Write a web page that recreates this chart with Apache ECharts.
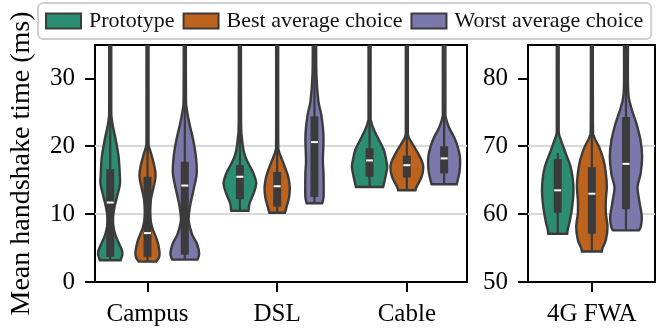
<!DOCTYPE html>
<html>
<head>
<meta charset="utf-8">
<script src="https://cdn.jsdelivr.net/npm/echarts@6/dist/echarts.min.js"></script>
<style>
html,body{margin:0;padding:0;background:#fff;}
#chart{width:662px;height:330px;}
</style>
</head>
<body>
<div id="chart"></div>
<script>
// ---------- data ----------
const categoriesLeft = ['Campus', 'DSL', 'Cable'];
const categoriesRight = ['4G FWA'];
const hues = ['Prototype', 'Best average choice', 'Worst average choice'];
const hueColors = ['#2B8E70', '#BE631D', '#7C78AB'];
const yTicksLeft = [0, 10, 20, 30];
const yTicksRight = [50, 60, 70, 80];

// violin outlines: [value (ms), half width (category units)]
const campusPrototype = [[3.2,0.080],[4.0,0.093],[4.7,0.090],[5.7,0.067],[7.1,0.037],[9.1,0.019],[11.1,0.034],[13.0,0.058],[14.5,0.075],[16.0,0.073],[18.4,0.065],[20.9,0.043],[22.8,0.022],[24.3,0.010],[26,0.008],[36,0.008]];
const campusBest = [[3.0,0.067],[3.7,0.090],[4.7,0.091],[6.2,0.073],[8.1,0.035],[10.1,0.017],[12.0,0.025],[14.0,0.047],[15.5,0.062],[16.9,0.055],[18.9,0.028],[19.9,0.012],[21,0.008],[36,0.008]];
const campusWorst = [[3.3,0.097],[4.2,0.111],[5.7,0.092],[7.1,0.055],[9.1,0.030],[11.1,0.040],[13.5,0.067],[16.0,0.092],[18.4,0.086],[20.9,0.065],[23.3,0.036],[25.5,0.015],[27.2,0.009],[36,0.008]];
const dslPrototype = [[10.5,0.067],[11.6,0.075],[13.0,0.105],[14.5,0.126],[16.0,0.105],[17.4,0.067],[18.9,0.034],[21.3,0.015],[23.8,0.009],[36,0.008]];
const dslBest = [[10.2,0.060],[11.1,0.073],[12.5,0.092],[14.0,0.097],[15.5,0.085],[16.9,0.060],[18.4,0.030],[19.4,0.012],[21,0.008],[36,0.008]];
const dslWorst = [[11.6,0.060],[12.5,0.070],[14.0,0.071],[16.0,0.070],[17.9,0.065],[20.9,0.070],[22.8,0.065],[24.8,0.051],[26.7,0.030],[30.6,0.015],[36,0.013]];
const cablePrototype = [[14.0,0.105],[15.5,0.123],[16.9,0.136],[17.9,0.129],[19.4,0.111],[20.9,0.073],[22.3,0.036],[23.8,0.010],[25,0.008],[36,0.008]];
const cableBest = [[13.5,0.067],[14.0,0.075],[15.5,0.114],[16.9,0.127],[17.9,0.114],[19.4,0.073],[20.9,0.026],[21.6,0.010],[23,0.008],[36,0.008]];
const cableWorst = [[14.4,0.097],[15.0,0.105],[16.4,0.120],[18.4,0.122],[19.9,0.105],[21.3,0.077],[22.8,0.037],[24.3,0.012],[26,0.010],[36,0.010]];
const fwaPrototype = [[57.1,0.080],[57.7,0.084],[59.1,0.103],[61.1,0.122],[63.1,0.132],[65.0,0.128],[67.0,0.108],[69.0,0.066],[70.9,0.027],[71.9,0.010],[74,0.008],[86,0.008]];
const fwaBest = [[54.5,0.084],[55.0,0.090],[56.2,0.118],[58.1,0.132],[60.1,0.118],[62.1,0.118],[64.0,0.126],[66.0,0.118],[68.0,0.098],[69.9,0.061],[71.4,0.019],[73.4,0.009],[86,0.008]];
const fwaWorst = [[57.6,0.109],[58.1,0.124],[59.6,0.133],[62.1,0.111],[64.0,0.097],[66.0,0.124],[68.5,0.136],[70.9,0.122],[73.4,0.087],[75.8,0.042],[78.3,0.018],[86,0.017]];

// inner boxes: [whisker low, q1, median, q3, whisker high]
const campusBoxes = [[3.3,3.7,11.7,16.6,36],[3.0,3.7,7.2,15.5,33],[3.4,4.0,14.2,17.7,36]];
const dslBoxes = [[10.5,12.2,15.5,17.2,24.7],[10.2,11.1,14.1,16.2,23.9],[11.6,12.5,20.6,24.4,36]];
const cableBoxes = [[14.0,15.5,17.9,19.7,26],[13.5,15.4,17.2,18.6,23.4],[14.4,16.0,18.2,20.0,26]];
const fwaBoxes = [[57.1,60.2,63.5,68.1,69.0],[54.5,57.1,63.0,66.9,74],[57.6,60.7,67.4,74.3,86]];

// ---------- build ----------
const profilesLeft = [[campusPrototype, campusBest, campusWorst],[dslPrototype, dslBest, dslWorst],[cablePrototype, cableBest, cableWorst]];
const boxesLeft = [campusBoxes, dslBoxes, cableBoxes];
const profilesRight = [[fwaPrototype, fwaBest, fwaWorst]];
const boxesRight = [fwaBoxes];

const DODGE = [-0.2875, 0, 0.2875];
const LINE = '#3b3b3b';
const FONT = 'Liberation Serif';

// smooth (Catmull-Rom) path through screen points, as SVG path commands
function smoothSegs(pts) {
  let d = '';
  for (let i = 0; i < pts.length - 1; i++) {
    const p0 = pts[Math.max(i - 1, 0)], p1 = pts[i], p2 = pts[i + 1], p3 = pts[Math.min(i + 2, pts.length - 1)];
    const c1 = [p1[0] + (p2[0] - p0[0]) / 6, p1[1] + (p2[1] - p0[1]) / 6];
    const c2 = [p2[0] - (p3[0] - p1[0]) / 6, p2[1] - (p3[1] - p1[1]) / 6];
    d += ' C' + c1[0].toFixed(2) + ',' + c1[1].toFixed(2) + ' ' + c2[0].toFixed(2) + ',' + c2[1].toFixed(2) + ' ' + p2[0].toFixed(2) + ',' + p2[1].toFixed(2);
  }
  return d;
}

function makeRender(profiles, boxes, h) {
  return function (params, api) {
    const gi = api.value(0);
    const xc = gi + DODGE[h];
    const prof = profiles[gi][h];
    const rightSide = prof.map(p => api.coord([xc + p[1], p[0]]));
    const leftSide = prof.slice().reverse().map(p => api.coord([xc - p[1], p[0]]));
    const pathData = 'M' + rightSide[0][0].toFixed(2) + ',' + rightSide[0][1].toFixed(2) + smoothSegs(rightSide)
      + ' L' + leftSide[0][0].toFixed(2) + ',' + leftSide[0][1].toFixed(2) + smoothSegs(leftSide) + ' Z';
    const b = boxes[gi][h];
    const pLo = api.coord([xc, b[0]]);
    const pQ1 = api.coord([xc, b[1]]);
    const pMed = api.coord([xc, b[2]]);
    const pQ3 = api.coord([xc, b[3]]);
    const pHi = api.coord([xc, b[4]]);
    return {
      type: 'group',
      children: [
        { type: 'path', shape: { pathData: pathData },
          style: { fill: hueColors[h], stroke: LINE, lineWidth: 2.4, lineJoin: 'miter' } },
        { type: 'line', shape: { x1: pLo[0], y1: pLo[1], x2: pHi[0], y2: pHi[1] },
          style: { stroke: LINE, lineWidth: 2.2 } },
        { type: 'rect', shape: { x: pQ3[0] - 4, y: pQ3[1], width: 8, height: pQ1[1] - pQ3[1] },
          style: { fill: LINE } },
        { type: 'line', shape: { x1: pMed[0] - 3.5, y1: pMed[1], x2: pMed[0] + 3.5, y2: pMed[1] },
          style: { stroke: '#ffffff', lineWidth: 2 } }
      ]
    };
  };
}

const series = [];
[[profilesLeft, boxesLeft, categoriesLeft, 0], [profilesRight, boxesRight, categoriesRight, 1]].forEach(([profiles, boxes, cats, p]) => {
  hues.forEach((name, h) => {
    series.push({
      type: 'custom',
      name: name,
      xAxisIndex: p,
      yAxisIndex: p,
      clip: true,
      itemStyle: { color: hueColors[h], borderColor: LINE, borderWidth: 2 },
      renderItem: makeRender(profiles, boxes, h),
      data: cats.map((c, gi) => [gi, boxes[gi][h][2]]),
      silent: true,
      animation: false
    });
  });
});

const tickStyle = { show: true, inside: false, length: 10, lineStyle: { color: '#000', width: 2 } };
const labelStyle = { color: '#000', fontFamily: FONT, fontSize: 25 };

const option = {
  animation: false,
  legend: {
    data: hues,
    left: 38, top: 3,
    padding: [7, 8, 7, 7],
    itemGap: 8,
    itemWidth: 35, itemHeight: 15,
    icon: 'rect',
    itemStyle: { borderColor: LINE, borderWidth: 2 },
    backgroundColor: 'rgba(255,255,255,0.8)',
    borderColor: '#cfcfcf', borderWidth: 2, borderRadius: 5,
    textStyle: { color: '#111', fontFamily: FONT, fontSize: 22, padding: [0, 0, 0, 3] },
    selectedMode: false
  },
  grid: [
    { left: 83, top: 45, width: 384, height: 237, show: true, borderColor: '#000', borderWidth: 2, backgroundColor: 'transparent' },
    { left: 528, top: 45, width: 127, height: 237, show: true, borderColor: '#000', borderWidth: 2, backgroundColor: 'transparent' }
  ],
  xAxis: [
    { type: 'value', gridIndex: 0, min: -0.405, max: 2.464, position: 'bottom',
      axisLine: { show: false, onZero: false }, splitLine: { show: false },
      axisTick: Object.assign({ customValues: categoriesLeft.map((c, i) => i) }, tickStyle),
      axisLabel: Object.assign({ customValues: categoriesLeft.map((c, i) => i), margin: 20,
        formatter: v => categoriesLeft[Math.round(v)] }, labelStyle) },
    { type: 'value', gridIndex: 1, min: -0.538, max: 0.532, position: 'bottom',
      axisLine: { show: false, onZero: false }, splitLine: { show: false },
      axisTick: Object.assign({ customValues: [0] }, tickStyle),
      axisLabel: Object.assign({ customValues: [0], margin: 20,
        formatter: v => categoriesRight[Math.round(v)] }, labelStyle) }
  ],
  yAxis: [
    { type: 'value', gridIndex: 0, min: 0, max: 34.9, interval: 10, position: 'left',
      name: 'Mean handshake time (ms)', nameLocation: 'middle', nameGap: 59,
      nameTextStyle: { color: '#000', fontFamily: FONT, fontSize: 28 },
      axisLine: { show: false, onZero: false },
      axisTick: Object.assign({ customValues: yTicksLeft }, tickStyle),
      axisLabel: Object.assign({ customValues: yTicksLeft, margin: 20 }, labelStyle),
      splitLine: { show: true, showMinLine: false, showMaxLine: false, lineStyle: { color: '#d9d9d9', width: 2 } } },
    { type: 'value', gridIndex: 1, min: 50, max: 84.9, interval: 10, position: 'left',
      axisLine: { show: false, onZero: false },
      axisTick: Object.assign({ customValues: yTicksRight }, tickStyle),
      axisLabel: Object.assign({ customValues: yTicksRight, margin: 20 }, labelStyle),
      splitLine: { show: true, showMinLine: false, showMaxLine: false, lineStyle: { color: '#d9d9d9', width: 2 } } }
  ],
  series: series
};

const chart = echarts.init(document.getElementById('chart'), null, { renderer: 'canvas' });
chart.setOption(option);
</script>
</body>
</html>
